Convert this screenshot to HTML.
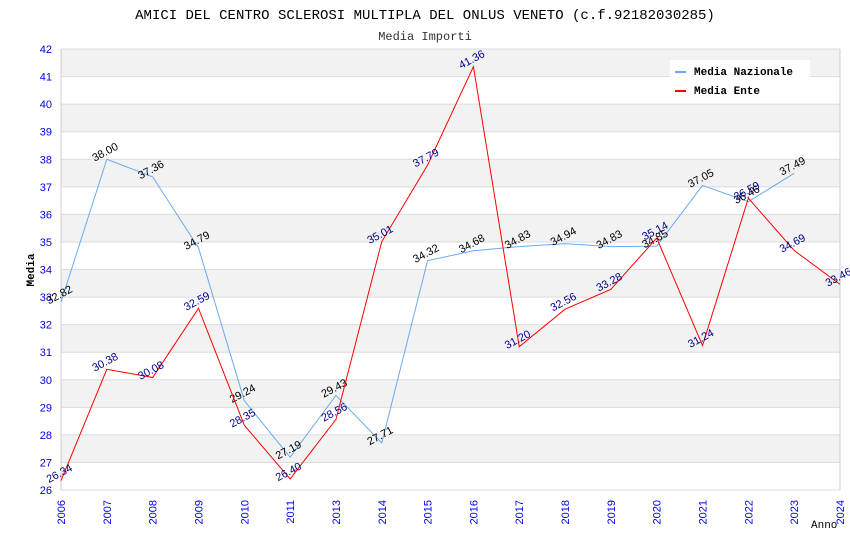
<!DOCTYPE html>
<html><head><meta charset="utf-8"><style>
body{margin:0;background:#fff;}
svg{display:block;font-family:"Liberation Sans",sans-serif;}
.mono{font-family:"Liberation Mono",monospace;}
</style></head><body>
<svg id="chart" width="850" height="550">
<text class="mono" x="425" y="19" text-anchor="middle" font-size="14" fill="#000">AMICI DEL CENTRO SCLEROSI MULTIPLA DEL ONLUS VENETO (c.f.92182030285)</text>
<text class="mono" x="425" y="40" text-anchor="middle" font-size="12" fill="#333">Media Importi</text>
<text class="mono" x="34" y="270" text-anchor="middle" font-size="11" font-weight="bold" transform="rotate(-90 34 270)">Media</text>
<text class="mono" x="811" y="528" font-size="11">Anno</text>
<g id="plot"></g>
<g>
<rect x="670" y="60" width="140" height="19" fill="#fff"/>
<g><rect x="675" y="71" width="11" height="2" fill="#6aaaee"/><text class="mono" x="694" y="75" font-size="11" font-weight="bold">Media Nazionale</text></g>
<g><rect x="675" y="90" width="11" height="2" fill="#ff0000"/><text class="mono" x="694" y="94" font-size="11" font-weight="bold">Media Ente</text></g>
</g>
</svg>
<script>
const categories=["2006","2007","2008","2009","2010","2011","2013","2014","2015","2016","2017","2018","2019","2020","2021","2022","2023","2024"];
const nazionale=[32.82,38.00,37.36,34.79,29.24,27.19,29.43,27.71,34.32,34.68,34.83,34.94,34.83,34.85,37.05,36.46,37.49,null];
const ente=[26.34,30.38,30.08,32.59,28.35,26.40,28.56,35.01,37.79,41.36,31.20,32.56,33.28,35.14,31.24,36.59,34.69,33.46];
const yTicks=[26,27,28,29,30,31,32,33,34,35,36,37,38,39,40,41,42];
const X0=61,X1=840,Y0=490,Y1=49,YMIN=26,YMAX=42;
const xs=i=>X0+i*(X1-X0)/(categories.length-1);
const ys=v=>Y0-(v-YMIN)*(Y0-Y1)/(YMAX-YMIN);
const NS="http://www.w3.org/2000/svg";
const g=document.getElementById('plot');
function mk(t,a,p){const e=document.createElementNS(NS,t);for(const k in a)e.setAttribute(k,a[k]);(p||g).appendChild(e);return e;}
for(let i=0;i<yTicks.length-1;i++){
  const a=yTicks[i],b=yTicks[i+1];
  if(a%2===1){const r=mk('rect',{x:X0,y:ys(b),width:X1-X0,height:ys(a)-ys(b),fill:'#f2f2f2'});
  
  }
}
yTicks.forEach(v=>{
  const l=mk('line',{x1:X0,x2:X1,y1:ys(v),y2:ys(v),stroke:'#dcdcdc'});
  
  
  const t=mk('text',{x:52,y:ys(v)+4,'text-anchor':'end','font-size':11,fill:'#0000ee'});
  t.textContent=v;
  
  
});
mk('line',{x1:X0,x2:X0,y1:Y1,y2:Y0,stroke:'#ccc'});
mk('line',{x1:X1,x2:X1,y1:Y1,y2:Y0,stroke:'#ccc'});
categories.forEach((c,i)=>{
  const x=xs(i);
  const t=mk('text',{x:x+4,y:500,'text-anchor':'end','font-size':11,fill:'#0000ee',transform:`rotate(-90 ${x+4} 500)`});
  t.textContent=c;
  
  
});
function series(data,color,lblColor,name){
  let d='';data.forEach((v,i)=>{if(v==null)return;d+=(d?'L':'M')+xs(i)+' '+ys(v);});
  const p=mk('path',{d:d,fill:'none',stroke:color,'stroke-width':1});
  
  
  data.forEach((v,i)=>{if(v==null)return;
    const x=xs(i),y=ys(v)-4;
    const t=mk('text',{x:x,y:y,'text-anchor':'middle','font-size':11,fill:lblColor,transform:`rotate(-28 ${x} ${y})`});
    t.textContent=v.toFixed(2);
    
    
  });
}
series(nazionale,'#6aaaee','#000','nazionale');
series(ente,'#ff0000','#00008b','ente');
</script>
</body></html>
